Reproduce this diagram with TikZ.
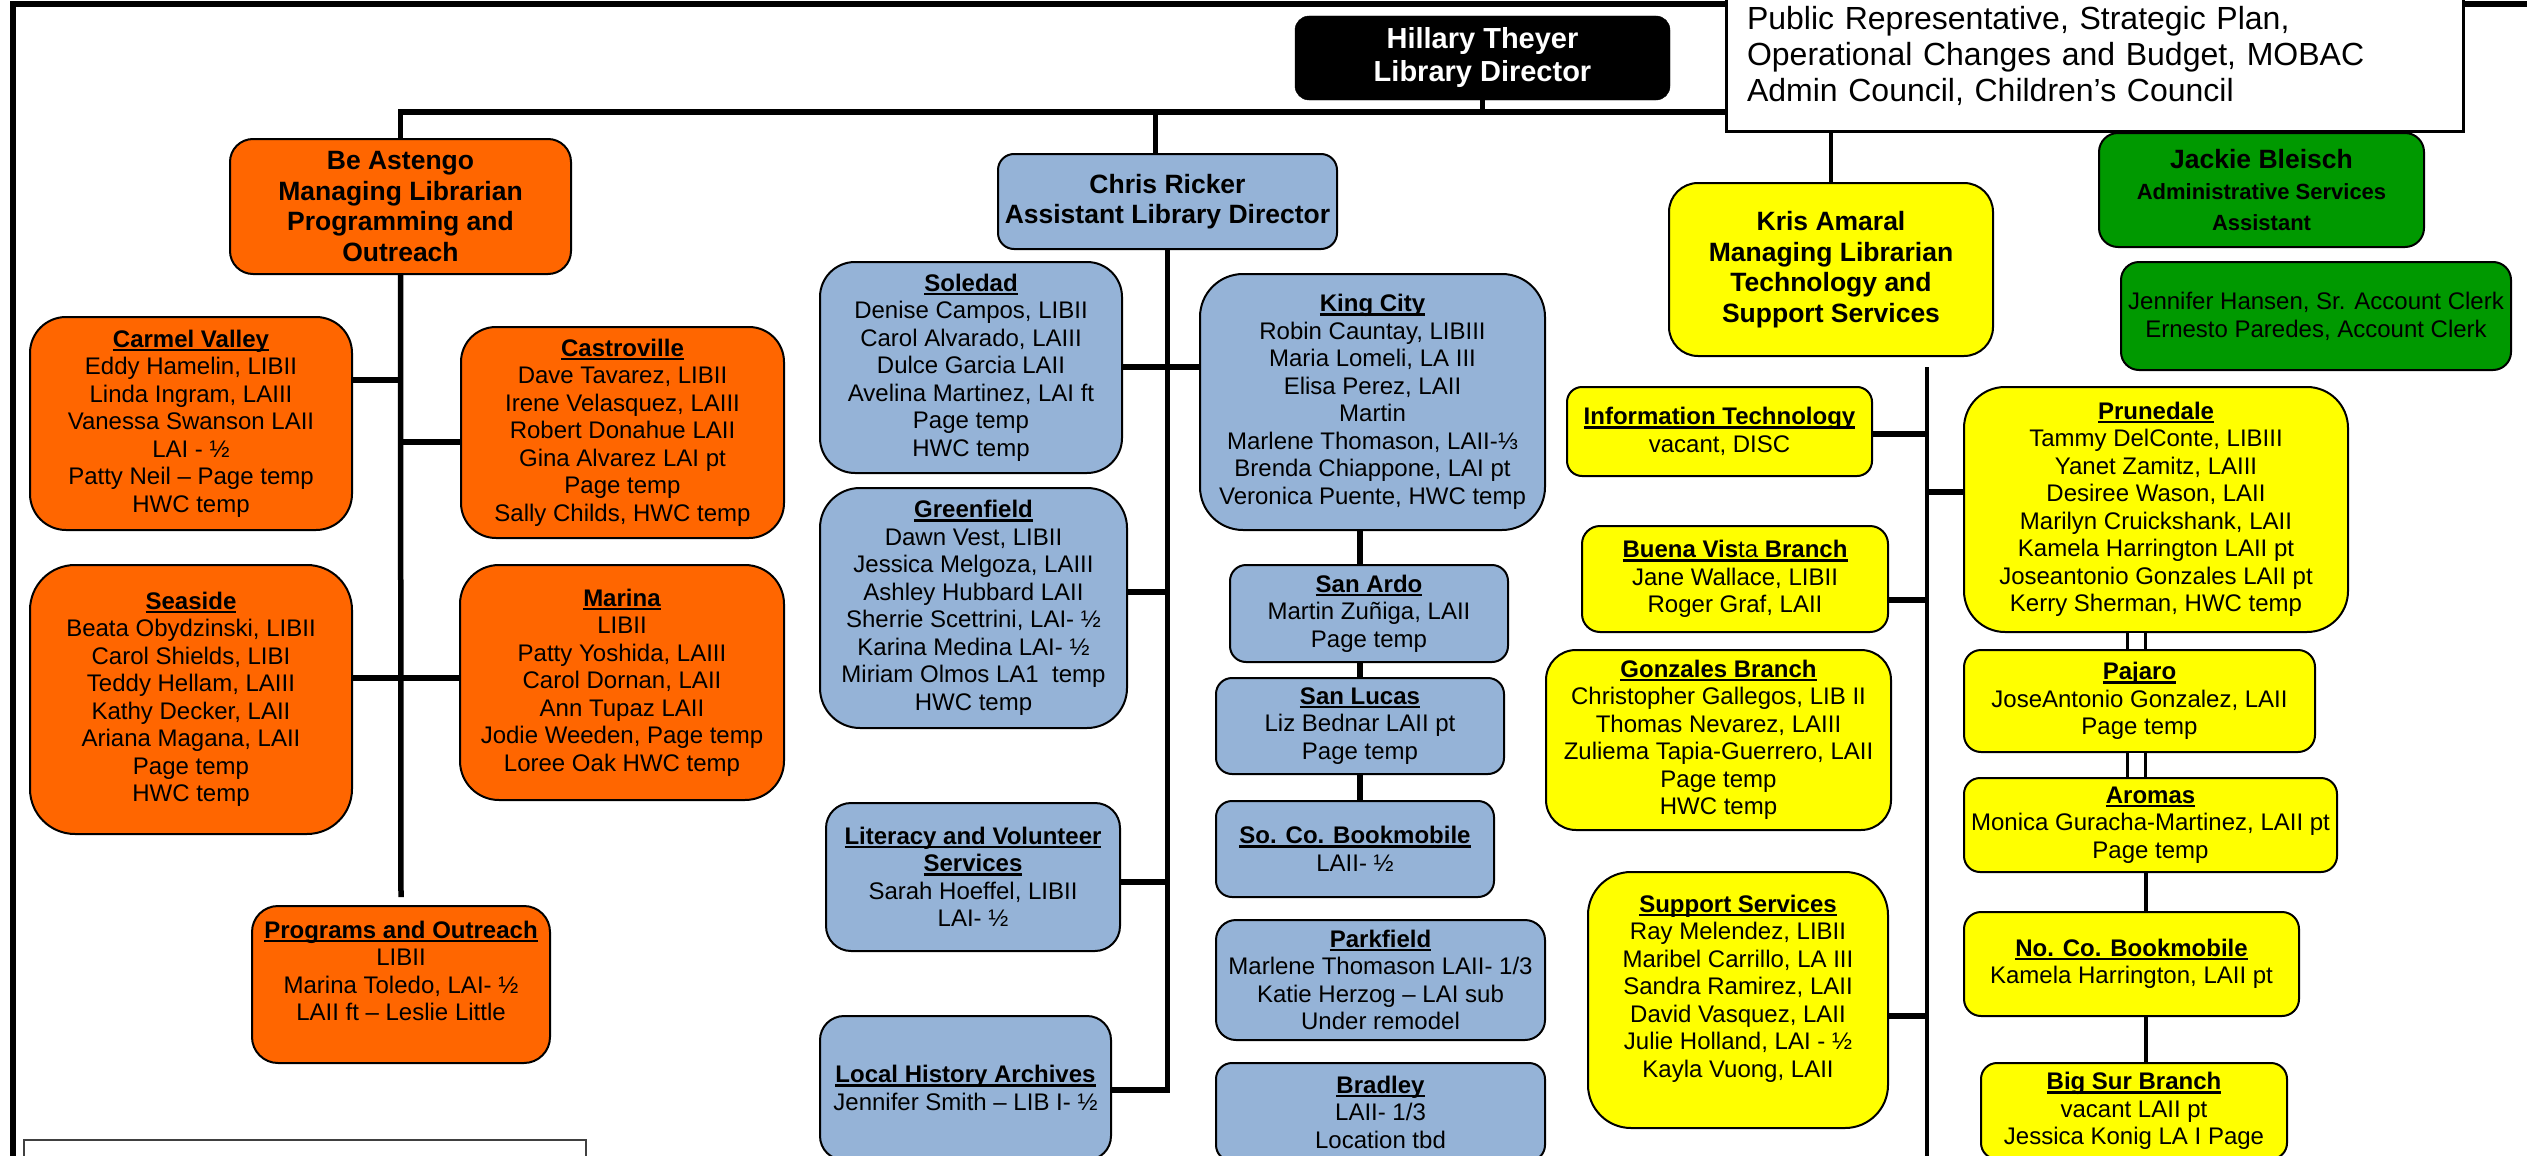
\documentclass[tikz,border=0pt]{standalone}
\usepackage{fontspec}
\setmainfont{Liberation Sans}
\usetikzlibrary{positioning, calc}

\definecolor{orgorange}{HTML}{FF6600}
\definecolor{orgblue}{HTML}{95B3D7}
\definecolor{orgyellow}{HTML}{FFFF00}
\definecolor{orggreen}{HTML}{009900}

% underlined branch headings
\newcommand{\ulbox}[1]{\setbox0=\hbox{#1}\rlap{\rule[-4pt]{\wd0}{2.5pt}}\box0}
\newcommand{\bhead}[1]{\ulbox{\textbf{#1}}}

\begin{document}
\begin{tikzpicture}[x=1pt, y=-1pt]
		\tikzset{
			box/.style={draw, line width=2pt, rounded corners=#1, align=center, inner sep=0pt, font=\fontsize{24}{27.5}\selectfont},
			obox/.style={box=#1, fill=orgorange},
			bbox/.style={box=#1, fill=orgblue},
			ybox/.style={box=#1, fill=orgyellow},
			gbox/.style={box=#1, fill=orggreen},
			sz/.style 2 args={minimum width=#1pt, minimum height=#2pt},
			mgr/.style={font=\fontsize{26.5}{30.5}\selectfont\bfseries},
			conn/.style={line width=5.5pt},
			dbl/.style={line width=3pt, double, double distance=15pt}
		}
		\useasboundingbox (0,0) rectangle (2527,1156);
		
		% Frame
		\draw[line width=6pt] (13,1180) -- (13,4) -- (2540,4);
		
		% Director and note
		\node[draw, fill=black, text=white, rounded corners=14pt, align=center, inner sep=0pt, sz={375}{84}, font=\fontsize{29}{33}\selectfont\bfseries] (director) at (1482.5,58) {Hillary Theyer\\Library Director};
		\node[draw, line width=3pt, fill=white, sz={737}{151}, align=left, text width=695pt, inner sep=0pt, font=\fontsize{32}{36}\selectfont] (note) at (2094.5,55.5) {Public Representative, Strategic Plan,\\Operational Changes and Budget, MOBAC\\Admin Council, Children’s Council};
		
		% Managers
		\node[obox=23pt, mgr, sz={341}{135}] (be) at (400.5,206.5) {Be Astengo\\Managing Librarian\\Programming and\\Outreach};
		\node[bbox=16pt, mgr, sz={339}{95}] (chris) at (1167.5,201.5) {Chris Ricker\\Assistant Library Director};
		\node[ybox=29pt, mgr, sz={324}{173}] (kris) at (1831,269.5) {Kris Amaral\\Managing Librarian\\Technology and\\Support Services};
		\node[gbox=19pt, sz={325}{114}, font=\fontsize{22}{31}\selectfont\bfseries] (jackie) at (2261.5,190) {{\fontsize{26.5}{31}\selectfont Jackie Bleisch}\\Administrative Services\\Assistant};
		\node[gbox=18pt, sz={390}{108}, font=\fontsize{24}{28}\selectfont] (staff) at (2316,316) {Jennifer Hansen, Sr. Account Clerk\\Ernesto Paredes, Account Clerk};
		
		% Programming and outreach
		\node[obox=36pt, sz={322}{213}] (carmel) at (191,423.5) {\bhead{Carmel Valley}\\Eddy Hamelin, LIBII\\Linda Ingram, LAIII\\Vanessa Swanson LAII\\LAI - ½\\Patty Neil – Page temp\\HWC temp};
		\node[obox=35pt, sz={323}{211}] (castro) at (622.5,432.5) {\bhead{Castroville}\\Dave Tavarez, LIBII\\Irene Velasquez, LAIII\\Robert Donahue LAII\\Gina Alvarez LAI pt\\Page temp\\Sally Childs, HWC temp};
		\node[obox=45pt, sz={322}{269}] (seaside) at (191,699.5) {\bhead{Seaside}\\Beata Obydzinski, LIBII\\Carol Shields, LIBI\\Teddy Hellam, LAIII\\Kathy Decker, LAII\\Ariana Magana, LAII\\Page temp\\HWC temp};
		\node[obox=39pt, sz={324}{235}] (marina) at (622,682.5) {\bhead{Marina}\\LIBII\\Patty Yoshida, LAIII\\Carol Dornan, LAII\\Ann Tupaz LAII\\Jodie Weeden, Page temp\\Loree Oak HWC temp};
		\node[obox=26pt, sz={298}{157}] (prog) at (401,984.5) {\bhead{Programs and Outreach}\\LIBII\\Marina Toledo, LAI- ½\\LAII ft – Leslie Little\\ \mbox{}};
		
		% Assistant director branches
		\node[bbox=35pt, sz={302}{211}] (soledad) at (971,367.5) {\bhead{Soledad}\\Denise Campos, LIBII\\Carol Alvarado, LAIII\\Dulce Garcia LAII\\Avelina Martinez, LAI ft\\Page temp\\HWC temp};
		\node[bbox=43pt, sz={345}{256}] (kingcity) at (1372.5,402) {\bhead{King City}\\Robin Cauntay, LIBIII\\Maria Lomeli, LA III\\Elisa Perez, LAII\\Martin\\Marlene Thomason, LAII-⅓\\Brenda Chiappone, LAI pt\\Veronica Puente, HWC temp};
		\node[bbox=40pt, sz={307}{240}] (greenfield) at (973.5,608) {\bhead{Greenfield}\\Dawn Vest, LIBII\\Jessica Melgoza, LAIII\\Ashley Hubbard LAII\\Sherrie Scettrini, LAI- ½\\Karina Medina LAI- ½\\Miriam Olmos LA1 \ temp\\HWC temp};
		\node[bbox=25pt, sz={294}{148}] (literacy) at (973,877) {\bhead{Literacy and Volunteer}\\\bhead{Services}\\Sarah Hoeffel, LIBII\\LAI- ½};
		\node[bbox=24pt, sz={291}{144}] (lochist) at (965.5,1088) {\bhead{Local History Archives}\\Jennifer Smith – LIB I- ½};
		\node[bbox=16pt, sz={278}{97}] (sanardo) at (1369,613.5) {\bhead{San Ardo}\\Martin Zuñiga, LAII\\Page temp};
		\node[bbox=16pt, sz={288}{96}] (sanlucas) at (1360,726) {\bhead{San Lucas}\\Liz Bednar LAII pt\\Page temp};
		\node[bbox=16pt, sz={278}{96}] (socobm) at (1355,849) {\bhead{So. Co. Bookmobile}\\LAII- ½};
		\node[bbox=20pt, sz={329}{120}] (parkfield) at (1380.5,980) {\bhead{Parkfield}\\Marlene Thomason LAII- 1/3\\Katie Herzog – LAI sub\\Under remodel};
		\node[bbox=16pt, sz={329}{98}] (bradley) at (1380.5,1112) {\bhead{Bradley}\\LAII- 1/3\\Location tbd};
		
		% Technology and support branches
		\node[ybox=15pt, sz={305}{89}] (it) at (1719.5,431.5) {\bhead{Information Technology}\\vacant, DISC};
		\node[ybox=18pt, sz={306}{106}] (buena) at (1735,579) {\ulbox{\textbf{Buena Vis}ta \textbf{Branch}}\\Jane Wallace, LIBII\\Roger Graf, LAII};
		\node[ybox=30pt, sz={345}{180}] (gonzales) at (1718.5,740) {\bhead{Gonzales Branch}\\Christopher Gallegos, LIB II\\Thomas Nevarez, LAIII\\Zuliema Tapia-Guerrero, LAII\\Page temp\\HWC temp};
		\node[ybox=43pt, sz={300}{256}] (support) at (1738,1000) {\bhead{Support Services}\\Ray Melendez, LIBII\\Maribel Carrillo, LA III\\Sandra Ramirez, LAII\\David Vasquez, LAII\\Julie Holland, LAI - ½\\Kayla Vuong, LAII\\ \mbox{}};
		\node[ybox=41pt, sz={384}{245}] (prunedale) at (2156,509.5) {\bhead{Prunedale}\\Tammy DelConte, LIBIII\\Yanet Zamitz, LAIII\\Desiree Wason, LAII\\Marilyn Cruickshank, LAII\\Kamela Harrington LAII pt\\Joseantonio Gonzales LAII pt\\Kerry Sherman, HWC temp};
		\node[ybox=17pt, sz={351}{102}] (pajaro) at (2139.5,701) {\bhead{Pajaro}\\JoseAntonio Gonzalez, LAII\\Page temp};
		\node[ybox=16pt, sz={373}{94}] (aromas) at (2150.5,825) {\bhead{Aromas}\\Monica Guracha-Martinez, LAII pt\\Page temp};
		\node[ybox=17pt, sz={335}{104}] (nocobm) at (2131.5,964) {\bhead{No. Co. Bookmobile}\\Kamela Harrington, LAII pt};
		\node[ybox=16pt, sz={306}{96}] (bigsur) at (2134,1111) {\bhead{Big Sur Branch}\\vacant LAII pt\\Jessica Konig LA I Page};
		
		% Empty box at the bottom left
		\node[draw=black!75, line width=2pt, sz={562}{80}, anchor=north west] (keybox) at (23,1139) {};
		
		% Chain coordinates
		\coordinate (kchain) at (1360,0);
		\coordinate (rchain) at (2136,0);
		\coordinate (rsingle) at (2146,0);
		\coordinate (ktop) at (1927,367);
		\coordinate (kbot) at (1927,1170);
		
		% Top level lines
		\draw[conn] (be.north) |- (note.west |- 0,112);
		\draw[conn] (director.south) -- (director.south |- 0,112);
		\draw[conn] ([xshift=-12pt]chris.north) -- ([xshift=-12pt]chris.north |- 0,112);
		\draw[line width=4pt] (kris.north) -- (kris.north |- note.south);
		
		% Programming and outreach lines
		\draw[conn] (be.south) -- ([yshift=8pt]prog.north);
		\draw[conn] (carmel.east |- 0,380) -- (be.south |- 0,380);
		\draw[conn] (be.south |- 0,442) -- (castro.west |- 0,442);
		\draw[conn] (seaside.east |- 0,678) -- (marina.west |- 0,678);
		
		% Assistant director lines
		\draw[conn] (chris.south) -- (chris.south |- 0,1090) -- (lochist.east |- 0,1090);
		\draw[conn] (soledad.east |- 0,367) -- (kingcity.west |- 0,367);
		\draw[conn] (greenfield.east |- 0,592) -- (chris.south |- 0,592);
		\draw[conn] (literacy.east |- 0,882) -- (chris.south |- 0,882);
		\draw[conn] (kingcity.south -| kchain) -- (sanardo.north -| kchain);
		\draw[conn] (sanardo.south -| kchain) -- (sanlucas.north -| kchain);
		\draw[conn] (sanlucas.south -| kchain) -- (socobm.north -| kchain);
		
		% Technology and support lines
		\draw[line width=4pt] (ktop) -- (kbot);
		\draw[conn] (it.east |- 0,434) -- (ktop |- 0,434);
		\draw[conn] (ktop |- 0,492) -- (prunedale.west |- 0,492);
		\draw[conn] (buena.east |- 0,600) -- (ktop |- 0,600);
		\draw[conn] (support.east |- 0,1016) -- (ktop |- 0,1016);
		\draw[dbl] (prunedale.south -| rchain) -- (pajaro.north -| rchain);
		\draw[dbl] (pajaro.south -| rchain) -- (aromas.north -| rchain);
		\draw[line width=4.5pt] (aromas.south -| rsingle) -- (nocobm.north -| rsingle);
		\draw[line width=4.5pt] (nocobm.south -| rsingle) -- (bigsur.north -| rsingle);
		
	\end{tikzpicture}
\end{document}
